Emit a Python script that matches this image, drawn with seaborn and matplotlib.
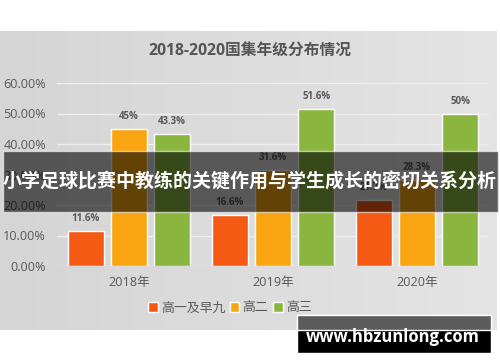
import numpy as np
import pandas as pd
import matplotlib
matplotlib.use("Agg")
import matplotlib.pyplot as plt
import seaborn as sns
from matplotlib.patches import Rectangle, Patch
from matplotlib.colors import LinearSegmentedColormap

years = ["2018年", "2019年", "2020年"]
grades = ["高一及早九", "高二", "高三"]
v_g1 = [11.6, 16.6, 21.7]
v_g2 = [45.0, 31.6, 28.3]
v_g3 = [43.3, 51.6, 50.0]
yticks = [0, 10, 20, 30, 40, 50, 60]
title = "2018-2020国集年级分布情况"
banner = "小学足球比赛中教练的关键作用与学生成长的密切关系分析"
watermark = "www.hbzunlong.com"
colors = ["#F45A14", "#F9A512", "#8AB640"]

rows = []
for g, vals in zip(grades, [v_g1, v_g2, v_g3]):
    for y, v in zip(years, vals):
        rows.append({"year": y, "grade": g, "value": v})
df = pd.DataFrame(rows)

sns.set_theme(style="white")
plt.rcParams["font.family"] = ["Open Sans", "Noto Sans CJK SC", "DejaVu Sans"]

W, H = 500, 362
fig = plt.figure(figsize=(5, 3.62), dpi=100)
fig.patch.set_facecolor("white")

# background panel with gradient
bg = fig.add_axes([0, (H - 330) / H, 497 / W, 299 / H], zorder=-5)
grad = np.linspace(0, 1, 256).reshape(1, -1)
cmap = LinearSegmentedColormap.from_list("g", ["#d5d5d5", "#e4e4e4"])
bg.imshow(grad, aspect="auto", cmap=cmap, extent=[0, 1, 0, 1])
bg.set_axis_off()

ax = fig.add_axes([57 / W, (H - 266) / H, 432 / W, 183 / H])
ax.set_facecolor("none")
sns.barplot(data=df, x="year", y="value", hue="grade", hue_order=grades,
            order=years, palette=colors, width=0.9, gap=0.17,
            edgecolor="white", linewidth=1.0, ax=ax, legend=False, saturation=1)
ax.set_xlim(-0.5, 2.5)
ax.set_ylim(0, 60)
ax.set_yticks(yticks)
ax.set_yticklabels([f"{t:.2f}%" for t in yticks])
ax.grid(axis="y", color="#eeeeee", lw=1.0, zorder=0)
ax.set_axisbelow(True)
for s in ax.spines.values():
    s.set_visible(False)
ax.tick_params(axis="both", length=0, colors="#595959", labelsize=9.1)
ax.tick_params(axis="y", pad=8)
ax.tick_params(axis="x", pad=7)
ax.set_xlabel("")
ax.set_ylabel("")

for cont in ax.containers:
    ax.bar_label(cont, labels=[f"{b.get_height():g}%" for b in cont],
                 padding=5, fontsize=7, color="#595959", fontweight="bold")

fig.text(0.5, (H - 51) / H, title, ha="center", va="center", fontsize=11.3,
         fontweight="bold", color="#555555")

handles = [Patch(facecolor=c, edgecolor="white", linewidth=1) for c in colors]
fig.legend(handles, grades, loc="center", bbox_to_anchor=(230 / W, (H - 308) / H),
           ncol=3, frameon=False, fontsize=9.3, handlelength=0.7, handleheight=0.7,
           handletextpad=0.25, columnspacing=0.4, labelcolor="#595959")

# banner overlay
fig.patches.append(Rectangle((3 / W, (H - 212) / H), 495 / W, 61 / H,
                             transform=fig.transFigure, facecolor="black",
                             alpha=0.6, zorder=10))
fig.text(250 / W, (H - 182) / H, banner, ha="center", va="center", fontsize=13.7,
         fontweight="bold", color="white", zorder=11,
         family=["Noto Sans CJK SC", "DejaVu Sans"])

# watermark
fig.patches.append(Rectangle((297 / W, (H - 353) / H), 194 / W, 38 / H,
                             transform=fig.transFigure, facecolor="black", zorder=10))
fig.patches.append(Rectangle((297 / W, (H - 330) / H), 194 / W, 15 / H,
                             transform=fig.transFigure, facecolor="#5c5c5c", zorder=10))
fig.text(393 / W, (H - 337) / H, watermark, ha="center", va="center", fontsize=12,
         fontweight="bold", color="white", zorder=11, family=["Open Sans", "DejaVu Sans"])

fig.savefig("out.png", dpi=100)
